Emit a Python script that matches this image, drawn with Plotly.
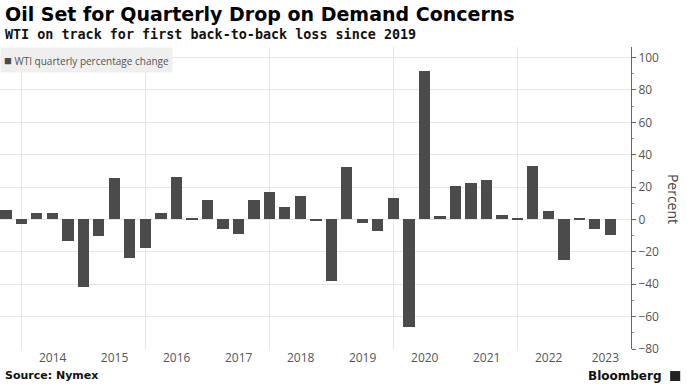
import datetime as dt
import plotly.graph_objects as go

# ---- data ----
quarter_end = [
    "2013-09-30", "2013-12-31",
    "2014-03-31", "2014-06-30", "2014-09-30", "2014-12-31",
    "2015-03-31", "2015-06-30", "2015-09-30", "2015-12-31",
    "2016-03-31", "2016-06-30", "2016-09-30", "2016-12-31",
    "2017-03-31", "2017-06-30", "2017-09-30", "2017-12-31",
    "2018-03-31", "2018-06-30", "2018-09-30", "2018-12-31",
    "2019-03-31", "2019-06-30", "2019-09-30", "2019-12-31",
    "2020-03-31", "2020-06-30", "2020-09-30", "2020-12-31",
    "2021-03-31", "2021-06-30", "2021-09-30", "2021-12-31",
    "2022-03-31", "2022-06-30", "2022-09-30", "2022-12-31",
    "2023-03-31", "2023-06-30",
]
wti_pct_change = [
    6.0, -3.0,
    4.0, 4.0, -13.0, -41.5,
    -10.5, 25.5, -23.5, -17.5,
    3.8, 26.5, 0.4, 12.0,
    -5.6, -8.8, 12.2, 17.0,
    7.8, 14.6, -1.0, -37.8,
    32.4, -2.4, -7.2, 13.0,
    -66.5, 91.7, 2.4, 20.8,
    22.3, 24.3, 2.7, 0.3,
    33.3, 5.5, -24.8, 1.0,
    -5.7, -9.8,
]
year_labels = [2014, 2015, 2016, 2017, 2018, 2019, 2020, 2021, 2022, 2023]
y_ticks = [-80, -60, -40, -20, 0, 20, 40, 60, 80, 100]

x_start = dt.date(2013, 8, 26)
x_end = dt.date(2023, 10, 30)

# label positions: centre of the visible part of each year
tick_pos = []
for y in year_labels:
    s = max(dt.date(y, 1, 1), x_start)
    e = min(dt.date(y + 1, 1, 1), x_end)
    mid = s + (e - s) / 2
    tick_pos.append(mid.isoformat())
grid_years = [dt.date(y, 1, 1).isoformat() for y in year_labels if y % 2 == 0]

BAR = "#4b4b4b"
FONT = "Open Sans"

fig = go.Figure()
fig.add_trace(go.Bar(
    x=quarter_end, y=wti_pct_change,
    width=66 * 24 * 3600 * 1000,
    marker=dict(color=BAR, line=dict(width=0)),
    name="WTI quarterly percentage change",
    showlegend=False,
))

fig.update_layout(
    width=687, height=391,
    margin=dict(l=0, r=56, t=47, b=42),
    paper_bgcolor="white", plot_bgcolor="white",
    font=dict(family=FONT, color="#444"),
    xaxis=dict(
        type="date",
        range=[x_start.isoformat(), x_end.isoformat()],
        tickmode="array", tickvals=tick_pos,
        ticktext=[str(y) for y in year_labels],
        showgrid=False, zeroline=False, showline=False,
        ticks="", tickfont=dict(size=12, color="#555"),
        minor=dict(tickmode="array", tickvals=grid_years, showgrid=True,
                   gridcolor="#e6e6e6", gridwidth=1, ticks=""),
    ),
    yaxis=dict(
        side="right",
        range=[-80, 106.5],
        tickmode="array", tickvals=y_ticks,
        showgrid=True, gridcolor="#e6e6e6", gridwidth=1,
        zeroline=False,
        showline=True, linecolor="#666", linewidth=1,
        ticks="outside", ticklen=4, tickcolor="#666",
        tickfont=dict(size=12, color="#555"),
        minor=dict(dtick=10, tick0=0, ticks="outside", ticklen=2,
                   tickcolor="#888", showgrid=False),
    ),
    bargap=0,
)

fig.add_annotation(
    xref="paper", yref="paper", x=0.0, y=1.0, xanchor="left", yanchor="top",
    text="<span style='color:%s;font-size:13px'>■</span> WTI quarterly percentage change" % BAR,
    showarrow=False, bgcolor="#efefef", borderpad=3,
    font=dict(size=10, color="#555", family=FONT),
)

fig.add_annotation(
    xref="paper", yref="paper", x=0.005, y=1.109, xanchor="left", yanchor="middle",
    text="<b>Oil Set for Quarterly Drop on Demand Concerns</b>",
    showarrow=False, font=dict(size=19, color="#000", family="DejaVu Sans"),
)
fig.add_annotation(
    xref="paper", yref="paper", x=0.005, y=1.043, xanchor="left", yanchor="middle",
    text="<b>WTI on track for first back-to-back loss since 2019</b>",
    showarrow=False, font=dict(size=13.4, color="#111", family="DejaVu Sans Mono"),
)
fig.add_annotation(
    xref="paper", yref="paper", x=1.0666, y=0.497, xanchor="center", yanchor="middle",
    text="Percent", textangle=90,
    showarrow=False, font=dict(size=14, color="#444", family=FONT),
)
fig.add_annotation(
    xref="paper", yref="paper", x=0.005, y=-0.089, xanchor="left", yanchor="middle",
    text="<b>Source: Nymex</b>",
    showarrow=False, font=dict(size=11, color="#111", family="DejaVu Sans"),
)
fig.add_annotation(
    xref="paper", yref="paper", x=1.0525, y=-0.089, xanchor="right", yanchor="middle",
    text="<b>Bloomberg</b>",
    showarrow=False, font=dict(size=12, color="#111", family="DejaVu Sans"),
)
fig.add_shape(
    type="rect", xref="paper", yref="paper",
    x0=1.062, x1=1.078, y0=-0.106, y1=-0.073,
    fillcolor="#222", line=dict(width=0),
)

fig.write_html("out.html", config={"displayModeBar": False},
               post_script="document.body.style.margin='0';")
